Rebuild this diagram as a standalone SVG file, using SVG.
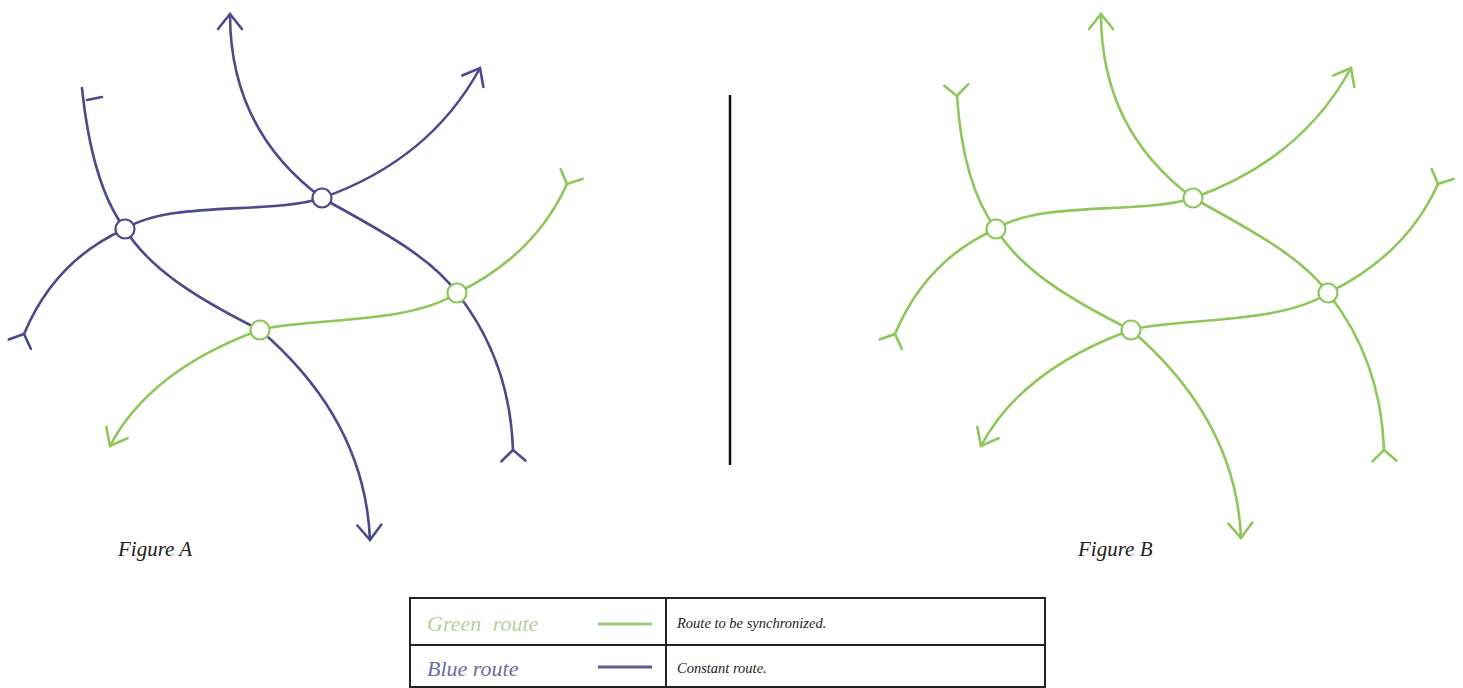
<svg xmlns="http://www.w3.org/2000/svg" width="1463" height="688" viewBox="0 0 1463 688">
<style>
.b{fill:none;stroke:#4a4a8c;stroke-width:2.6;stroke-linecap:round}
.g{fill:none;stroke:#8ec65a;stroke-width:2.6;stroke-linecap:round}
.nb{fill:#fff;stroke:#4a4a8c;stroke-width:2.2}
.ng{fill:#fff;stroke:#8ec65a;stroke-width:2.2}
.fig{font-family:"Liberation Serif",serif;font-style:italic;font-size:21px;fill:#222}
.lt{font-family:"Liberation Serif",serif;font-style:italic;font-size:22px}
.ls{font-family:"Liberation Serif",serif;font-style:italic;font-size:14.5px;fill:#222}
</style>
<defs>
<marker id="aB" markerUnits="userSpaceOnUse" orient="auto" overflow="visible" markerWidth="1" markerHeight="1"><path d="M-15,-12 L0,0 L-15,12" fill="none" stroke="#4a4a8c" stroke-width="2.6" stroke-linecap="round"/></marker>
<marker id="aG" markerUnits="userSpaceOnUse" orient="auto" overflow="visible" markerWidth="1" markerHeight="1"><path d="M-15,-12 L0,0 L-15,12" fill="none" stroke="#8ec65a" stroke-width="2.6" stroke-linecap="round"/></marker>
<marker id="tB" markerUnits="userSpaceOnUse" orient="auto-start-reverse" overflow="visible" markerWidth="1" markerHeight="1"><path d="M11,-12 L0,0 L11,12" fill="none" stroke="#4a4a8c" stroke-width="2.6" stroke-linecap="round"/></marker>
<marker id="tG" markerUnits="userSpaceOnUse" orient="auto-start-reverse" overflow="visible" markerWidth="1" markerHeight="1"><path d="M11,-12 L0,0 L11,12" fill="none" stroke="#8ec65a" stroke-width="2.6" stroke-linecap="round"/></marker>
</defs>

<g id="figureA">
<g id="connectorsA">
<path class="b" d="M82,88 Q92,185 125,229"/>
<path class="b" d="M87,100 L102,97"/>
<path class="b" d="M125,229 C150,270 200,300 260,330"/>
<path class="b" d="M260,330 Q365,420 370,540" marker-end="url(#aB)"/>
<path class="b" d="M24,334 Q55,260 125,229" marker-start="url(#tB)"/>
<path class="b" d="M125,229 C170,200 270,215 322,198"/>
<path class="b" d="M322,198 Q430,160 480,68" marker-end="url(#aB)"/>
<path class="b" d="M322,198 Q230,130 230,14" marker-end="url(#aB)"/>
<path class="b" d="M322,198 C370,225 430,255 457,293"/>
<path class="b" d="M457,293 Q510,360 513,450" marker-end="url(#tB)"/>
<path class="g" d="M567,184 Q535,255 457,293" marker-start="url(#tG)"/>
<path class="g" d="M260,330 C300,318 410,325 457,293"/>
<path class="g" d="M260,330 Q150,370 110,446" marker-end="url(#aG)"/>
</g>
<g id="nodeA1"><circle class="nb" cx="125" cy="229" r="9.5"/></g>
<g id="nodeA2"><circle class="nb" cx="322" cy="198" r="9.5"/></g>
<g id="nodeA3"><circle class="ng" cx="457" cy="293" r="9.5"/></g>
<g id="nodeA4"><circle class="ng" cx="260" cy="330" r="9.5"/></g>
<text class="fig" x="118" y="556">Figure A</text>
</g>

<g id="divider"><line x1="730" y1="95" x2="730" y2="465" stroke="#111" stroke-width="2.5"/></g>

<g id="figureB" transform="translate(871,0)">
<g id="connectorsB">
<path class="g" d="M86,96 Q92,185 125,229" marker-start="url(#tG)"/>
<path class="g" d="M125,229 C150,270 200,300 260,330"/>
<path class="g" d="M260,330 Q365,420 370,538" marker-end="url(#aG)"/>
<path class="g" d="M24,334 Q55,260 125,229" marker-start="url(#tG)"/>
<path class="g" d="M125,229 C170,200 270,215 322,198"/>
<path class="g" d="M322,198 Q430,160 480,68" marker-end="url(#aG)"/>
<path class="g" d="M322,198 Q230,130 230,14" marker-end="url(#aG)"/>
<path class="g" d="M322,198 C370,225 430,255 457,293"/>
<path class="g" d="M457,293 Q510,360 513,450" marker-end="url(#tG)"/>
<path class="g" d="M567,184 Q535,255 457,293" marker-start="url(#tG)"/>
<path class="g" d="M260,330 C300,318 410,325 457,293"/>
<path class="g" d="M260,330 Q150,370 110,446" marker-end="url(#aG)"/>
</g>
<g id="nodeB1"><circle class="ng" cx="125" cy="229" r="9.5"/></g>
<g id="nodeB2"><circle class="ng" cx="322" cy="198" r="9.5"/></g>
<g id="nodeB3"><circle class="ng" cx="457" cy="293" r="9.5"/></g>
<g id="nodeB4"><circle class="ng" cx="260" cy="330" r="9.5"/></g>
<text class="fig" x="207" y="556">Figure B</text>
</g>

<g id="legend">
<rect x="410" y="598" width="635" height="89" fill="none" stroke="#222" stroke-width="2"/>
<line x1="410" y1="645" x2="1045" y2="645" stroke="#222" stroke-width="2"/>
<line x1="666" y1="598" x2="666" y2="687" stroke="#222" stroke-width="2"/>
<text class="lt" x="427" y="631" fill="#b8cf9c" word-spacing="6">Green route</text>
<line x1="598" y1="624" x2="652" y2="624" stroke="#9fcb78" stroke-width="3"/>
<text class="ls" x="677" y="628">Route to be synchronized.</text>
<text class="lt" x="427" y="676" fill="#6b6b9c">Blue route</text>
<line x1="598" y1="667" x2="652" y2="667" stroke="#5b5b8f" stroke-width="3"/>
<text class="ls" x="677" y="673">Constant route.</text>
</g>
</svg>
